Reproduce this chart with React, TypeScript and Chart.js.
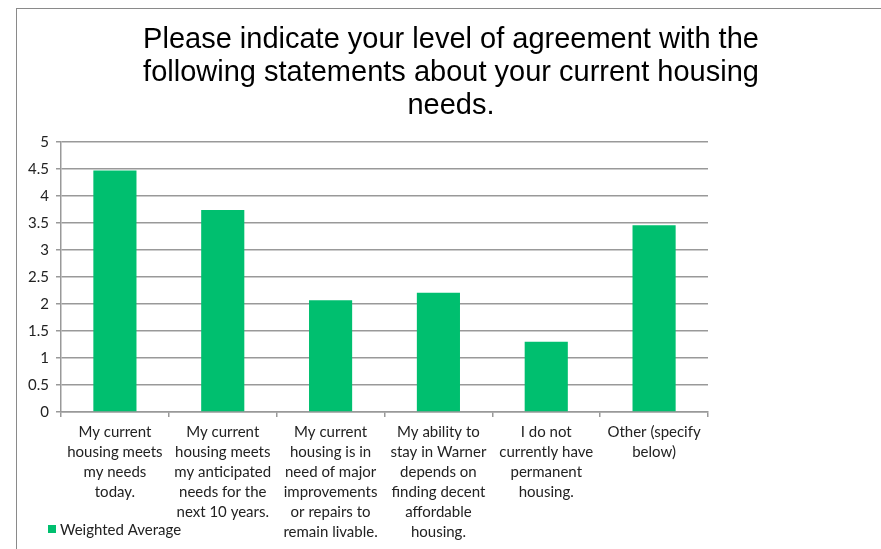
import React, { useEffect, useRef } from "react";
import { Chart, registerables } from "chart.js";

Chart.register(...registerables);

const titleLines = [
  "Please indicate your level of agreement with the",
  "following statements about your current housing",
  "needs.",
];

const categories: string[][] = [
  ["My current", "housing meets", "my needs", "today."],
  ["My current", "housing meets", "my anticipated", "needs for the", "next 10 years."],
  ["My current", "housing is in", "need of major", "improvements", "or repairs to", "remain livable."],
  ["My ability to", "stay in Warner", "depends on", "finding decent", "affordable", "housing."],
  ["I do not", "currently have", "permanent", "housing."],
  ["Other (specify", "below)"],
];

const seriesName = "Weighted Average";
const weightedAverage = [4.47, 3.74, 2.07, 2.21, 1.3, 3.46];

const yTicks = { min: 0, max: 5, step: 0.5 };

const GREEN = "#00BF6F";
const LABEL_FONT = "Lato";

const legendPlugin = {
  id: "customLegend",
  afterDraw(chart: any) {
    const ctx = chart.ctx;
    const ds = chart.data.datasets[0];
    ctx.save();
    ctx.fillStyle = ds.backgroundColor;
    ctx.fillRect(31, 516, 8, 8);
    ctx.fillStyle = "#222";
    ctx.font = `15px ${LABEL_FONT}`;
    ctx.textBaseline = "middle";
    ctx.textAlign = "left";
    ctx.fillText(ds.label, 43, 521);
    ctx.restore();
  },
};

export default function App() {
  const ref = useRef<HTMLCanvasElement | null>(null);

  useEffect(() => {
    if (!ref.current) return;
    const chart = new Chart(ref.current, {
      type: "bar",
      data: {
        labels: categories,
        datasets: [
          {
            label: seriesName,
            data: weightedAverage,
            backgroundColor: GREEN,
            borderWidth: 0,
            barPercentage: 0.4,
            categoryPercentage: 1.0,
          },
        ],
      },
      options: {
        animation: false,
        responsive: false,
        maintainAspectRatio: false,
        layout: { padding: 0 },
        plugins: {
          legend: { display: false },
          tooltip: { enabled: false },
          title: {
            display: true,
            fullSize: true,
            text: titleLines,
            color: "#000",
            font: { family: "Liberation Sans", size: 29, weight: "normal", lineHeight: 33 / 29 },
            padding: { top: 14, bottom: 20 },
          },
        },
        scales: {
          x: {
            offset: true,
            grid: {
              display: true,
              drawOnChartArea: false,
              drawTicks: true,
              tickLength: 5,
              color: "#999",
              lineWidth: 1.5,
              offset: true,
            },
            border: { display: true, color: "#999", width: 1.5 },
            ticks: {
              color: "#222",
              font: { family: LABEL_FONT, size: 15, lineHeight: 20 / 15 },
              maxRotation: 0,
              minRotation: 0,
              autoSkip: false,
              padding: 5,
            },
            afterFit(scale: any) {
              scale.height = 147;
            },
          },
          y: {
            min: yTicks.min,
            max: yTicks.max,
            ticks: {
              stepSize: yTicks.step,
              color: "#222",
              font: { family: LABEL_FONT, size: 15 },
              padding: 7,
              callback: (v: any) => `${Number(v)}`,
            },
            grid: {
              color: "#999",
              lineWidth: 1.5,
              tickLength: 5,
              drawTicks: true,
            },
            border: { display: true, color: "#999", width: 1.5 },
            afterFit(scale: any) {
              scale.width = 44;
            },
          },
          spacer: {
            type: "linear",
            position: "right",
            display: true,
            grid: { display: false, drawOnChartArea: false, drawTicks: false },
            border: { display: false },
            ticks: { display: false },
            afterFit(scale: any) {
              scale.width = 177;
            },
          },
        },
      },
      plugins: [legendPlugin],
    });
    return () => chart.destroy();
  }, []);

  return (
    <div style={{ position: "fixed", left: 0, top: 0, width: 881, height: 549, overflow: "hidden", background: "#fff" }}>
      <div
        style={{
          position: "absolute",
          left: 16,
          top: 8,
          width: 900,
          height: 600,
          borderTop: "1px solid #8a8a8a",
          borderLeft: "1px solid #8a8a8a",
        }}
      >
        <canvas ref={ref} width={868} height={550} style={{ display: "block", width: 868, height: 550 }} />
      </div>
    </div>
  );
}
